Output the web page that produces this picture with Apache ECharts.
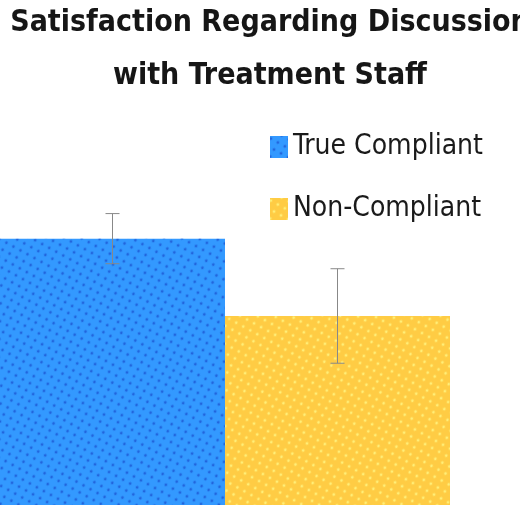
<!DOCTYPE html>
<html><head><meta charset="utf-8">
<script src="https://cdn.jsdelivr.net/npm/echarts@6/dist/echarts.min.js"></script>
<style>html,body{margin:0;padding:0;background:#fff}#c{width:520px;height:507px}</style>
</head><body><div id="c"></div>
<script>
const titleText = 'Satisfaction Regarding Discussion\nwith Treatment Staff';
const categories = ['Discussion with Treatment Staff'];
const seriesNames = ['True Compliant', 'Non-Compliant'];
const means = [3.72, 2.64];
const errHalf = [0.35, 0.66];
const colors = ['#3399ff', '#ffcc44'];
const dotColors = ['#2266dd', '#ffee77'];

const chart = echarts.init(document.getElementById('c'));
const barSeries = seriesNames.map((n, i) => ({
  name: n, type: 'bar', data: [means[i]],
  barGap: '0%', barCategoryGap: '0%',
  itemStyle: { color: colors[i], decal: { symbol: 'circle', symbolSize: 0.7, color: dotColors[i], dashArrayX: [[4, 4]], dashArrayY: [4, 4], rotation: 0.5 } }
}));
const errSeries = {
  type: 'custom', name: 'err', silent: true, z: 10,
  data: seriesNames.map((n, i) => [i, means[i] - errHalf[i], means[i] + errHalf[i]]),
  renderItem: function (params, api) {
    const idx = api.value(0);
    const lo = api.coord([0, api.value(1)]);
    const hi = api.coord([0, api.value(2)]);
    const w = api.size([1, 0])[0];
    const x = lo[0] + (idx === 0 ? -w / 4 : w / 4);
    const cap = 7;
    const st = { stroke: '#888', lineWidth: 1 };
    return { type: 'group', children: [
      { type: 'line', shape: { x1: x, y1: lo[1], x2: x, y2: hi[1] }, style: st },
      { type: 'line', shape: { x1: x - cap, y1: lo[1], x2: x + cap, y2: lo[1] }, style: st },
      { type: 'line', shape: { x1: x - cap, y1: hi[1], x2: x + cap, y2: hi[1] }, style: st }
    ] };
  }
};
chart.setOption({
  animation: false,
  title: { text: titleText, left: 265, textAlign: 'center', top: -8,
    textStyle: { fontFamily: 'DejaVu Sans Condensed', fontWeight: 'bold', fontSize: 30, color: '#161616', lineHeight: 53 } },
  legend: { data: seriesNames, orient: 'vertical', left: 265, top: 128, itemWidth: 18, itemHeight: 22, itemGap: 34,
    icon: 'rect',
    textStyle: { fontFamily: 'DejaVu Sans Condensed', fontSize: 28, color: '#1a1a1a' } },
  grid: { left: 0, right: 70, top: 147, bottom: 2, containLabel: false },
  xAxis: { type: 'category', data: categories, show: false },
  yAxis: { type: 'value', min: 0, max: 5, show: false },
  series: [...barSeries, errSeries]
});
</script></body></html>
